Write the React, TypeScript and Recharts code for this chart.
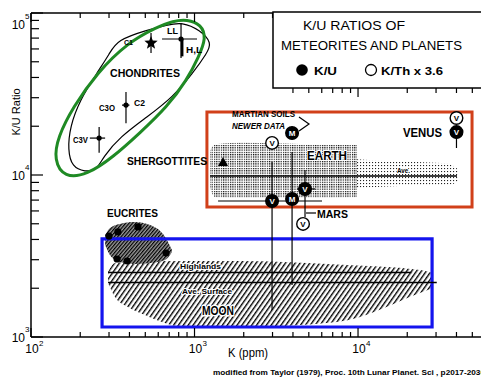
import React from "react";
import {
  ComposedChart,
  XAxis,
  YAxis,
  Area,
  Line,
  Scatter,
  ErrorBar,
  ReferenceArea,
} from "recharts";

const FONT = "Liberation Sans, Arial, Helvetica, sans-serif";

// axes
const xTicks = [100, 200, 300, 400, 500, 600, 700, 800, 900, 1000, 2000, 3000, 4000, 5000, 6000, 7000, 8000, 9000, 10000, 20000, 30000, 40000, 50000];
const yTicks = [1000, 2000, 3000, 4000, 5000, 6000, 7000, 8000, 9000, 10000, 20000, 30000, 40000, 50000, 60000, 70000, 80000, 90000, 100000];
const tickExp: Record<number, string> = { 100: "2", 1000: "3", 10000: "4", 100000: "5" };

// chondrites (K ppm, K/U) with ranges
const chonName = ["C1", "LL", "C2", "C3V"];
const chonK = [542, 827, 381, 261];
const chonKU = [65300, 69100, 27000, 16900];
const chonKLo = [542, 633, 360, 229];
const chonKHi = [542, 1036, 400, 284];
const chonKULo = [56600, 52700, 20900, 13700];
const chonKUHi = [75300, 86800, 32500, 19800];

// H,L thick bar
const hlK = [840, 840];
const hlKU = [69100, 54000];

// chondrite field outline
const outlineK = [336, 512, 679, 839, 1081, 1280, 1192, 979, 739, 512, 350, 276, 253, 214, 178, 168, 173, 199, 253, 304];
const outlineKU = [68100, 78500, 84300, 88000, 78500, 65300, 56600, 42600, 30300, 22800, 17200, 12900, 10740, 10440, 11200, 14300, 19800, 29000, 42600, 56600];

// green ring
const ringK = [899, 1100, 1180, 1060, 899, 679, 464, 318, 220, 160, 138, 146, 181, 253, 387, 590, 739];
const ringKU = [91500, 85000, 70000, 53500, 38600, 26300, 18200, 12900, 10000, 9600, 12400, 17200, 26300, 42600, 65300, 82000, 89300];

// eucrites
const eucK = [300, 340, 451, 336, 387, 670];
const eucKU = [4200, 4450, 4780, 3030, 2945, 3300];
const eucFieldK = [284, 304, 350, 432, 535, 661, 728];
const eucFieldLo = [3700, 3210, 2900, 2820, 2860, 2990, 3350];
const eucFieldHi = [4265, 4710, 4990, 5130, 4910, 4140, 3440];

// shergottites
const sherK = [1494];
const sherKU = [12030];

// moon field and lines
const moonK = [296, 326, 392, 498, 633, 839, 1897, 7440, 23900, 28750];
const moonLo = [2153, 1767, 1531, 1368, 1238, 1153, 1153, 1238, 1870, 2006];
const moonHi = [2520, 2864, 2900, 2900, 2950, 2944, 2944, 2800, 2593, 2483];
const highlandsK = [296, 21200];
const highlandsKU = [2500, 2500];
const surfaceK = [296, 30300];
const surfaceKU = [2170, 2170];

// earth field and average
const earthDenseK = [1244, 1330, 2000, 5000, 9860];
const earthDenseLo = [8400, 7300, 7200, 7200, 7300];
const earthDenseHi = [14000, 15500, 15800, 15500, 15300];
const earthSparseK = [9860, 15000, 25000, 35000, 41000];
const earthSparseLo = [8300, 8500, 8600, 8700, 9000];
const earthSparseHi = [12500, 12200, 12000, 11800, 10800];
const earthAveK = [1244, 40300];
const earthAveKU = [9860, 9860];

// Venus / Mars symbols
const planetSym = ["V", "V", "M", "M", "V", "V", "V", "V"];
const planetFilled = [false, true, true, true, true, false, false, true];
const planetK = [2980, 2980, 3950, 3950, 4740, 4610, 40000, 40000];
const planetKU = [15780, 6910, 7110, 18160, 8200, 4990, 22480, 18400];
const planetKLo = [2980, 1393, 3950, 3950, 4236, 4610, 40000, 40000];
const planetKHi = [2980, 6025, 3950, 3950, 5458, 4610, 40000, 40000];
const planetKULo = [15780, 1468, 2094, 18160, 5510, 4990, 22480, 14680];
const planetKUHi = [15780, 12030, 13870, 18160, 10740, 4990, 22480, 18400];

// boxes
const redBox = { k: [1191, 49800], ku: [6340, 24500] };
const blueBox = { k: [272, 28370], ku: [1153, 4030] };

const pts = (k: number[], ku: number[]) => k.map((v, i) => ({ k: v, ku: ku[i] }));
const band = (k: number[], lo: number[], hi: number[]) => k.map((v, i) => ({ k: v, range: [lo[i], hi[i]] }));
const withErr = (k: number[], ku: number[], kLo: number[], kHi: number[], kuLo: number[], kuHi: number[]) =>
  k.map((v, i) => ({
    k: v,
    ku: ku[i],
    kErr: [v - kLo[i], kHi[i] - v],
    kuErr: [ku[i] - kuLo[i], kuHi[i] - ku[i]],
    i,
  }));

const chonData = withErr(chonK, chonKU, chonKLo, chonKHi, chonKULo, chonKUHi).map((d) => ({ ...d, name: chonName[d.i] }));
const planetData = withErr(planetK, planetKU, planetKLo, planetKHi, planetKULo, planetKUHi).map((d) => ({
  ...d,
  sym: planetSym[d.i],
  filled: planetFilled[d.i],
}));

const XTick = ({ x, y, payload }: any) => {
  const exp = tickExp[payload.value];
  return (
    <g>
      <line x1={x} x2={x} y1={y} y2={y - (exp ? 9 : 5)} stroke="#000" strokeWidth={1.2} />
      {exp && (
        <g fontFamily={FONT} fill="#000">
          <text x={x + 1} y={y + 16} fontSize={12} textAnchor="middle">10</text>
          <text x={x + 8} y={y + 9} fontSize={8}>{exp}</text>
        </g>
      )}
    </g>
  );
};

const YTick = ({ x, y, payload }: any) => {
  const exp = tickExp[payload.value];
  const dy = payload.value === 100000 ? 11 : 0;
  return (
    <g>
      <line x1={x} x2={x + (exp ? 12 : 8)} y1={y} y2={y} stroke="#000" strokeWidth={1.2} />
      {exp && (
        <g fontFamily={FONT} fill="#000">
          <text x={x - 6} y={y + 5 + dy} fontSize={12} textAnchor="end">10</text>
          <text x={x - 6} y={y - 5 + dy} fontSize={8}>{exp}</text>
        </g>
      )}
    </g>
  );
};

const TopTick = ({ x, y, payload }: any) => {
  const y0 = x > 273 ? y + 75 : y;
  return <line x1={x} x2={x} y1={y0} y2={y0 + (tickExp[payload.value] ? 9 : 5)} stroke="#000" strokeWidth={1.2} />;
};

const dotShape = ({ cx, cy, payload }: any) => {
  if (payload.name === "C1") {
    const p: string[] = [];
    for (let j = 0; j < 10; j++) {
      const r = j % 2 === 0 ? 7 : 3;
      const a = -Math.PI / 2 + (j * Math.PI) / 5;
      p.push(`${cx + r * Math.cos(a)},${cy + r * Math.sin(a)}`);
    }
    return <polygon points={p.join(" ")} fill="#000" />;
  }
  return <circle cx={cx} cy={cy} r={2.6} fill="#000" />;
};

const eucShape = ({ cx, cy }: any) => <circle cx={cx} cy={cy} r={3.6} fill="#000" />;
const triShape = ({ cx, cy }: any) => (
  <path d={`M${cx},${cy - 5}L${cx + 5},${cy + 4}L${cx - 5},${cy + 4}Z`} fill="#000" />
);
const symShape = ({ cx, cy, payload }: any) => (
  <g>
    <circle cx={cx} cy={cy} r={6.3} fill={payload.filled ? "#000" : "#fff"} stroke="#000" strokeWidth={1.4} />
    <text x={cx} y={cy + 3} textAnchor="middle" fontSize={8} fontWeight="bold" fontFamily={FONT} fill={payload.filled ? "#fff" : "#000"}>
      {payload.sym}
    </text>
  </g>
);

const T = (p: any) => <text fontFamily={FONT} fontWeight="bold" fill="#000" lengthAdjust="spacingAndGlyphs" {...p} />;
const halo = { stroke: "#fff", strokeWidth: 2.2, paintOrder: "stroke", strokeLinejoin: "round" };

const logX = { dataKey: "k", type: "number" as const, scale: "log" as const, domain: [100, 56500], allowDataOverflow: true, ticks: xTicks, interval: 0, tickLine: false, tickSize: 0, tickMargin: 0, axisLine: { stroke: "#000", strokeWidth: 1.5 } };

export default function App() {
  return (
    <div style={{ position: "absolute", left: 0, top: 0, width: 481, height: 377, background: "#fff" }}>
      <ComposedChart width={481} height={377} margin={{ top: 12, right: 0, bottom: 10, left: 0 }}>
        <defs>
          <pattern id="dotsDense" width="2.3" height="2.3" patternUnits="userSpaceOnUse">
            <rect width="1.2" height="1.2" fill="#000" />
          </pattern>
          <pattern id="dotsSparse" width="3" height="3" patternUnits="userSpaceOnUse">
            <rect width="1.1" height="1.1" fill="#222" />
          </pattern>
          <pattern id="hatch" width="4" height="4" patternUnits="userSpaceOnUse" patternTransform="rotate(35)">
            <line x1="0.7" y1="0" x2="0.7" y2="4" stroke="#000" strokeWidth="1.4" />
          </pattern>
          <pattern id="cross" width="2.6" height="2.6" patternUnits="userSpaceOnUse" patternTransform="rotate(40)">
            <rect width="2.6" height="2.6" fill="#999" />
            <line x1="0.6" y1="0" x2="0.6" y2="2.6" stroke="#000" strokeWidth="1.2" />
          </pattern>
        </defs>
        <XAxis {...logX} height={30} tick={(p: any) => <XTick {...p} />} />
        <XAxis {...logX} xAxisId="top" orientation="top" height={1} tick={(p: any) => <TopTick {...p} />} />
        <YAxis
          dataKey="ku"
          type="number"
          scale="log"
          domain={[1000, 100000]}
          allowDataOverflow
          ticks={yTicks}
          interval={0}
          tick={(p: any) => <YTick {...p} />}
          tickLine={false}
          tickSize={0}
          tickMargin={0}
          width={31}
          axisLine={{ stroke: "#000", strokeWidth: 1.5 }}
        />

        <Area data={band(earthDenseK, earthDenseLo, earthDenseHi)} dataKey="range" type="monotone" stroke="none" fill="url(#dotsDense)" fillOpacity={1} dot={false} activeDot={false} isAnimationActive={false} />
        <Area data={band(earthSparseK, earthSparseLo, earthSparseHi)} dataKey="range" type="monotone" stroke="none" fill="url(#dotsSparse)" fillOpacity={1} dot={false} activeDot={false} isAnimationActive={false} />
        <Area data={band(moonK, moonLo, moonHi)} dataKey="range" type="monotone" stroke="none" fill="url(#hatch)" fillOpacity={1} dot={false} activeDot={false} isAnimationActive={false} />
        <Area data={band(eucFieldK, eucFieldLo, eucFieldHi)} dataKey="range" type="monotone" stroke="none" fill="url(#cross)" fillOpacity={1} dot={false} activeDot={false} isAnimationActive={false} />

        <Line data={pts(earthAveK, earthAveKU)} dataKey="ku" type="linear" stroke="#000" strokeWidth={1.4} dot={false} activeDot={false} isAnimationActive={false} />
        <Line data={pts(highlandsK, highlandsKU)} dataKey="ku" type="linear" stroke="#000" strokeWidth={1.4} dot={false} activeDot={false} isAnimationActive={false} />
        <Line data={pts(surfaceK, surfaceKU)} dataKey="ku" type="linear" stroke="#000" strokeWidth={1.4} dot={false} activeDot={false} isAnimationActive={false} />
        <Line data={pts(outlineK, outlineKU)} dataKey="ku" type="basisClosed" stroke="#000" strokeWidth={1.2} dot={false} activeDot={false} isAnimationActive={false} />
        <Line data={pts(hlK, hlKU)} dataKey="ku" type="linear" stroke="#000" strokeWidth={2.6} dot={false} activeDot={false} isAnimationActive={false} />

        <Scatter data={chonData} dataKey="ku" shape={dotShape} isAnimationActive={false}>
          <ErrorBar dataKey="kErr" direction="x" width={0} stroke="#000" strokeWidth={1.2} />
          <ErrorBar dataKey="kuErr" direction="y" width={0} stroke="#000" strokeWidth={1.2} />
        </Scatter>
        <Scatter data={pts(eucK, eucKU)} dataKey="ku" shape={eucShape} isAnimationActive={false} />
        <Scatter data={pts(sherK, sherKU)} dataKey="ku" shape={triShape} isAnimationActive={false} />
        <Scatter data={planetData} dataKey="ku" shape={symShape} isAnimationActive={false}>
          <ErrorBar dataKey="kErr" direction="x" width={0} stroke="#000" strokeWidth={1.2} />
          <ErrorBar dataKey="kuErr" direction="y" width={0} stroke="#000" strokeWidth={1.2} />
        </Scatter>

        <ReferenceArea x1={redBox.k[0]} x2={redBox.k[1]} y1={redBox.ku[0]} y2={redBox.ku[1]} fill="none" stroke="#d1401a" strokeWidth={3} strokeOpacity={1} />
        <ReferenceArea x1={blueBox.k[0]} x2={blueBox.k[1]} y1={blueBox.ku[0]} y2={blueBox.ku[1]} fill="none" stroke="#1414ee" strokeWidth={3.2} strokeOpacity={1} />
        <Line data={pts(ringK, ringKU)} dataKey="ku" type="basisClosed" stroke="#1f8a24" strokeWidth={3} dot={false} activeDot={false} isAnimationActive={false} />
      </ComposedChart>

      <svg width={481} height={377} style={{ position: "absolute", left: 0, top: 0, pointerEvents: "none" }}>
        <rect x={273} y={12} width={230} height={76} fill="#fff" stroke="#000" strokeWidth={1.5} />
        <T x={303} y={30} fontSize={13.5} fontWeight="normal" textLength={102}>K/U RATIOS OF</T>
        <T x={281} y={50} fontSize={13.5} fontWeight="normal" textLength={181}>METEORITES AND PLANETS</T>
        <circle cx={302} cy={70} r={5.8} fill="#000" />
        <T x={314} y={75} fontSize={10} textLength={23}>K/U</T>
        <circle cx={371} cy={70} r={5.5} fill="#fff" stroke="#000" strokeWidth={1.3} />
        <T x={381} y={75} fontSize={10} textLength={62}>K/Th x 3.6</T>

        <T x={20} y={112} fontSize={11} fontWeight="normal" textAnchor="middle" transform="rotate(-90 20 112)">K/U Ratio</T>
        <T x={228} y={357} fontSize={13} fontWeight="normal" textLength={40}>K (ppm)</T>
        <T x={213} y={375} fontSize={8} textLength={272}>modified from Taylor (1979), Proc. 10th Lunar Planet. Sci , p2017-2030</T>

        <T x={110} y={77} fontSize={10.5} textLength={70}>CHONDRITES</T>
        <T x={124} y={45} fontSize={8} textLength={9}>C1</T>
        <T x={167} y={34} fontSize={9} textLength={11}>LL</T>
        <T x={186} y={53} fontSize={9} textLength={16}>H,L</T>
        <T x={99} y={111} fontSize={9} textLength={16}>C3O</T>
        <T x={134} y={106} fontSize={9} textLength={11}>C2</T>
        <T x={73} y={143} fontSize={9} textLength={15}>C3V</T>
        <T x={127} y={165} fontSize={11} textLength={80}>SHERGOTTITES</T>
        <T x={107} y={217} fontSize={10.5} textLength={51}>EUCRITES</T>
        <T x={180} y={269} fontSize={8} textLength={41} {...halo}>Highlands</T>
        <T x={182} y={294} fontSize={8} textLength={50} {...halo}>Ave. Surface</T>
        <T x={202} y={315} fontSize={13} textLength={32} {...halo} strokeWidth={3}>MOON</T>
        <T x={232} y={117} fontSize={8.5} textLength={63}>MARTIAN SOILS</T>
        <T x={232} y={129} fontSize={8.5} fontStyle="italic" textLength={53}>NEWER DATA</T>
        <polyline points="299,117 309,124 299,131" fill="none" stroke="#000" strokeWidth={1.2} />
        <T x={307} y={160} fontSize={12.5} textLength={40} {...halo}>EARTH</T>
        <T x={397} y={173} fontSize={7} textLength={13} {...halo}>Ave.</T>
        <T x={403} y={137} fontSize={12} textLength={39}>VENUS</T>
        <T x={317} y={218} fontSize={10.5} textLength={31}>MARS</T>
        <line x1={306} y1={213} x2={316} y2={213} stroke="#000" strokeWidth={1.2} />
      </svg>
    </div>
  );
}
